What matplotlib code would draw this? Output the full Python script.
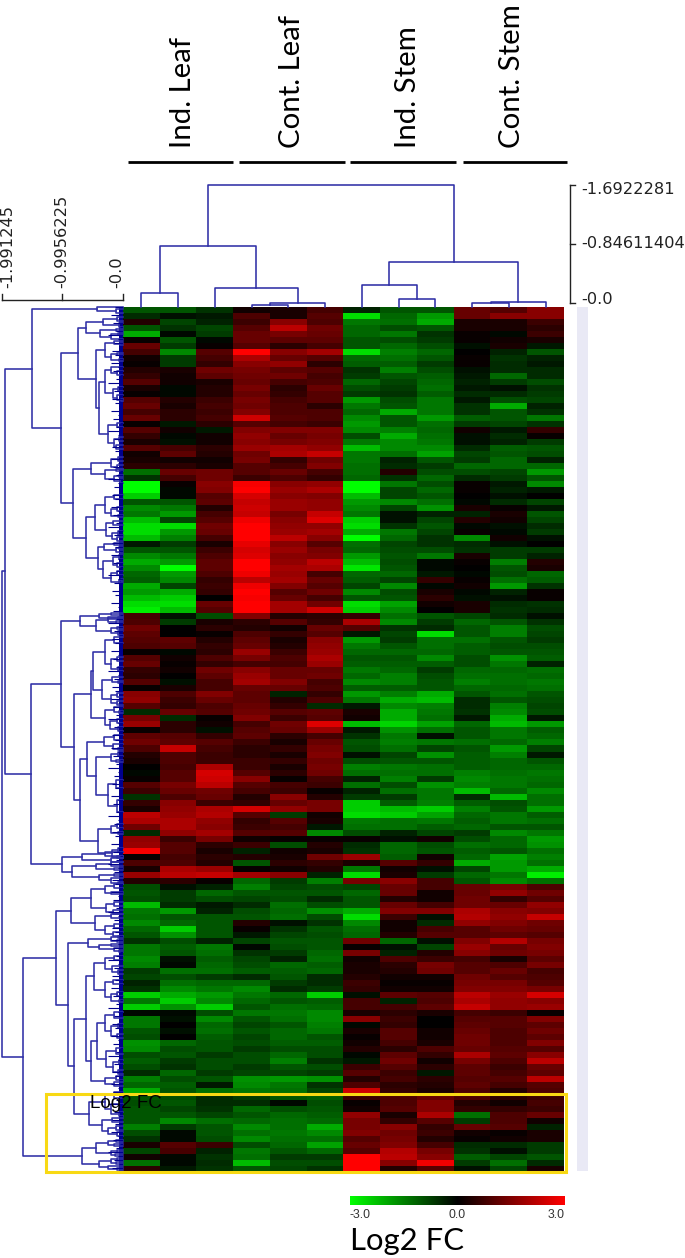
import numpy as np
import matplotlib
matplotlib.use('Agg')
import matplotlib.pyplot as plt
from matplotlib.colors import LinearSegmentedColormap
from matplotlib.patches import Rectangle

W, H = 685, 1258

# group labels
groups = ['Ind. Leaf', 'Cont. Leaf', 'Ind. Stem', 'Cont. Stem']

# log2 fc, one row per band, columns = 3 x 4 groups
heat_top = [
    [-1.0,-1.0,-0.6,0.2,0.3,0.8,-0.4,-1.0,-1.0,1.2,1.0,1.6],
    [-0.5,-0.2,-0.3,0.9,0.3,1.0,-2.6,-1.2,-1.8,1.2,1.6,1.6],
    [0.4,-0.8,-0.4,0.7,1.6,0.9,-1.4,-1.3,-2.0,0.3,0.3,0.7],
    [-1.0,-0.6,-0.8,1.0,2.2,1.3,-1.2,-0.9,-1.0,0.3,0.3,0.5],
    [-2.0,-0.1,-0.7,1.2,1.4,1.2,-1.2,-1.4,-0.6,0.1,-0.1,0.7],
    [0.1,-1.0,-0.1,1.2,1.1,1.1,-1.0,-0.9,-0.7,0.1,0.2,0.3],
    [1.2,-0.7,0.1,1.0,0.5,0.8,-1.0,-1.2,-0.9,-0.2,0.3,-0.3],
    [0.8,-1.6,1.0,3.0,1.6,1.9,-2.6,-1.5,-1.2,0.0,-0.4,-1.0],
    [0.2,-0.7,0.8,2.0,1.2,1.0,-1.2,-1.3,-1.0,0.1,-0.6,-0.4],
    [0.1,-0.7,0.6,1.6,1.7,0.5,-1.1,-1.1,-0.7,0.1,-0.5,-0.3],
    [0.4,0.3,1.3,1.4,1.1,1.0,-0.6,-1.5,-0.9,-0.2,-0.5,-0.5],
    [0.6,0.2,1.1,1.3,1.3,0.8,-0.7,-1.0,-1.1,-0.3,-1.2,-0.5],
    [1.0,0.2,0.3,1.2,0.8,0.9,-1.2,-0.8,-1.2,-0.4,-0.7,-0.9],
    [0.3,-0.1,0.4,1.4,0.5,1.2,-0.9,-0.7,-1.3,-0.3,-0.2,-0.6],
    [0.1,-0.1,0.4,1.2,0.6,1.0,-0.7,-0.6,-1.1,-0.5,-0.5,-0.7],
    [1.0,0.4,0.7,1.4,0.8,1.0,-1.8,-0.9,-1.4,-0.3,-0.9,-0.8],
    [1.2,0.3,0.8,1.3,0.9,0.5,-1.4,-1.0,-1.4,-0.6,-2.0,-0.4],
    [0.8,0.5,0.7,1.5,0.9,0.9,-1.2,-2.0,-1.4,-0.6,-1.0,-0.6],
    [1.2,0.5,0.8,2.4,1.0,0.9,-1.6,-1.0,-1.8,-1.1,-1.0,-1.4],
    [0.1,-0.3,0.5,1.0,0.8,0.7,-1.8,-1.0,-1.3,-0.7,-0.8,-0.6],
    [1.0,0.2,-0.3,1.5,1.5,1.5,-1.6,-1.5,-1.2,0.2,-0.3,0.6],
    [0.6,-0.1,0.2,1.7,1.2,1.4,-0.9,-2.0,-1.3,-0.2,-0.5,0.1],
    [0.3,-0.2,0.2,1.6,1.4,1.5,-1.4,-1.6,-1.4,-0.2,-0.4,-0.7],
    [1.0,0.8,0.5,1.8,1.9,1.7,-2.2,-1.6,-1.6,-0.5,-1.1,-1.0],
    [0.2,1.1,0.4,1.3,2.0,2.3,-1.4,-1.3,-1.9,-0.8,-1.0,-0.9],
    [0.3,0.2,0.2,1.4,0.6,1.3,-1.4,-0.4,-1.0,-0.7,-1.2,-0.4],
    [0.5,0.5,0.3,1.0,0.8,1.5,-1.3,-0.5,-0.7,-1.2,-1.2,-1.2],
    [-1.3,1.2,1.3,1.0,1.2,0.8,-1.3,0.4,-0.9,-0.9,-0.8,-1.8],
    [-0.6,0.8,1.3,0.7,0.9,0.6,-1.2,-0.6,-1.2,-0.5,-0.7,-1.0],
    [-3.0,0.1,1.6,2.9,1.6,1.7,-3.0,-1.4,-0.9,0.1,-0.3,-1.6],
    [-3.0,-0.1,1.5,3.0,1.8,2.0,-3.0,-0.8,-1.2,0.1,-0.4,-0.3],
    [-2.4,-0.1,1.0,2.5,1.6,1.5,-2.2,-0.8,-1.0,0.0,-0.2,0.0],
    [-1.0,-1.0,1.1,2.3,1.8,1.7,-1.8,-1.6,-1.3,-0.1,-0.5,-0.8],
    [-1.6,-1.4,0.4,2.4,1.8,1.7,-1.6,-0.8,-1.7,0.3,0.1,-0.3],
    [-1.4,-1.8,0.8,2.3,1.4,2.3,-1.4,-0.2,-0.4,-0.4,0.3,-1.0],
    [-2.2,-0.8,1.0,2.8,1.6,2.6,-2.4,-0.2,-0.8,0.4,0.2,-0.8],
    [-2.6,-2.6,1.3,3.0,1.7,1.7,-2.6,-0.6,-1.0,-0.1,-0.2,-0.5],
]
heat_upper_mid = [
    [-2.6,-1.8,1.2,3.0,1.8,1.9,-2.0,-1.4,-0.8,0.1,-0.1,-0.7],
    [-2.2,-1.5,0.8,3.0,2.2,1.6,-3.0,-1.2,-0.6,-1.6,0.2,-0.2],
    [-0.3,-0.7,0.3,2.7,1.6,1.0,-1.3,-0.8,-0.6,-0.5,-0.2,0.0],
    [-1.0,-1.0,0.7,2.5,1.8,1.4,-1.2,-0.9,-0.9,-0.6,-0.7,-0.7],
    [-1.6,-1.4,0.9,2.6,1.6,1.5,-1.8,-1.0,-1.4,0.3,-0.7,-0.4],
    [-2.0,-1.8,1.1,3.0,1.7,2.2,-2.2,-0.9,-0.1,0.1,-1.5,0.4],
    [-1.6,-3.0,1.1,3.0,1.9,2.0,-2.7,-1.0,-0.1,0.0,-1.0,0.3],
    [-1.2,-1.8,0.9,2.8,1.8,0.8,-1.2,-1.2,-0.3,-0.1,-0.9,-1.2],
    [-1.1,-1.6,0.6,2.2,1.9,1.2,-1.1,-0.8,0.6,0.1,-1.3,-1.1],
    [-2.0,-0.8,0.7,2.8,1.5,1.0,-0.8,-1.6,-0.1,0.2,-1.8,-0.6],
    [-1.8,-2.0,0.6,3.0,1.0,1.3,-1.6,-0.9,0.3,-0.1,-0.4,0.1],
    [-2.2,-2.4,0.0,2.9,1.2,0.8,-1.0,-1.0,0.5,-0.2,-0.2,0.1],
    [-2.6,-2.6,1.2,3.0,1.9,1.3,-2.6,-1.9,0.2,0.3,-0.5,-0.6],
    [-2.8,-2.2,1.0,3.0,1.9,2.4,-2.4,-1.6,0.0,0.3,-0.6,-0.5],
    [0.8,-0.2,-0.9,1.5,0.4,0.5,0.6,-1.3,-1.0,-0.8,-0.5,-0.2],
    [0.9,-0.7,0.3,0.5,1.0,0.6,2.0,-1.6,-0.7,-1.2,-1.0,-0.6],
    [1.3,0.0,0.5,0.4,0.2,1.2,1.0,-0.6,-0.5,-1.0,-1.5,-0.9],
    [1.1,0.0,0.1,0.9,0.6,1.0,-0.3,-0.8,-2.6,-1.0,-1.5,-0.8],
    [1.0,1.1,0.4,1.1,0.3,1.6,-1.8,-0.7,-1.3,-1.3,-1.0,-0.7],
    [0.9,1.0,0.6,1.2,0.4,1.7,-1.4,-1.0,-1.3,-1.1,-0.9,-0.9],
    [0.1,-0.1,0.5,1.8,0.7,1.8,-1.2,-1.2,-1.2,-1.1,-1.0,-1.0],
    [1.0,0.2,0.9,1.4,0.9,2.0,-1.0,-1.0,-1.6,-0.9,-1.7,-1.1],
    [1.2,0.1,0.6,0.8,0.8,1.8,-1.1,-1.1,-1.1,-0.9,-1.4,-0.4],
    [0.6,0.2,1.3,1.6,1.2,1.2,-1.4,-1.2,-0.7,-1.2,-1.2,-1.3],
    [0.5,0.0,1.1,1.8,1.2,1.3,-1.2,-1.5,-0.9,-1.3,-1.3,-1.2],
    [1.0,-0.2,0.8,1.9,1.5,0.8,-1.6,-1.5,-1.0,-1.5,-1.3,-1.4],
    [0.1,0.3,0.8,1.2,1.2,0.9,-1.1,-1.1,-1.0,-1.2,-1.2,-1.3],
    [1.6,0.9,1.5,1.1,-0.4,0.6,-1.8,-1.5,-2.0,-1.0,-1.3,-1.0],
    [1.7,0.7,1.2,1.1,0.4,0.9,-1.4,-2.0,-2.2,-0.5,-1.0,-0.9],
    [1.0,0.6,0.9,1.2,0.6,-0.5,-0.3,-1.6,-1.5,-0.5,-1.5,-0.8],
    [-0.5,1.2,1.0,1.3,1.0,1.1,0.3,-2.0,-1.4,-0.6,-1.6,-0.9],
    [1.4,-0.5,0.1,1.5,0.7,1.0,0.2,-2.0,-1.3,-0.3,-2.0,-0.3],
    [1.8,0.5,0.2,0.8,1.3,2.6,-2.2,-2.5,-1.9,-1.2,-2.2,-1.8],
    [0.1,0.5,-0.2,1.0,1.2,1.8,-0.3,-1.7,-1.3,-1.0,-1.4,-1.1],
    [1.1,1.0,0.6,1.1,0.5,0.8,-0.6,-1.4,-0.2,-1.0,-1.4,-1.2],
    [1.3,1.1,1.0,0.7,0.3,1.2,-1.0,-1.5,-1.4,-1.3,-1.2,-1.5],
]
heat_lower_mid = [
    [0.9,2.3,0.8,0.5,0.6,1.4,-0.9,-1.3,-0.8,-1.0,-1.8,-0.8],
    [0.4,0.9,0.7,0.5,0.3,1.5,-0.2,-0.8,-1.7,-1.1,-1.5,-0.3],
    [0.3,0.9,0.7,0.7,0.6,1.3,-0.9,-1.0,-1.0,-1.1,-1.2,-1.0],
    [0.0,0.8,2.0,0.7,0.3,1.4,-1.5,-1.4,-1.3,-1.1,-1.2,-1.2],
    [-0.1,1.0,2.5,1.0,0.5,1.3,-1.3,-1.3,-1.3,-1.5,-1.3,-1.4],
    [0.1,1.0,2.4,1.6,0.1,0.8,-0.4,-1.5,-0.7,-1.6,-1.4,-1.3],
    [1.0,1.4,2.2,1.0,0.8,0.7,-1.3,-0.9,-1.7,-1.5,-1.4,-1.2],
    [0.7,1.2,1.3,0.8,0.7,0.1,-0.4,-1.3,-1.4,-2.2,-1.2,-1.6],
    [-0.6,0.9,1.2,0.4,1.6,0.4,-0.7,-0.7,-1.4,-0.5,-2.2,-1.3],
    [0.6,1.6,0.7,0.6,1.2,1.4,-2.4,-1.1,-1.5,-1.1,-0.9,-1.3],
    [0.3,1.7,2.0,2.5,1.7,1.4,-2.4,-2.2,-2.4,-1.5,-1.0,-1.8],
    [2.2,1.8,2.1,1.0,-0.7,0.2,-2.6,-2.4,-1.9,-1.2,-1.4,-1.1],
    [2.0,2.0,1.7,0.6,1.0,0.3,-1.4,-1.3,-1.4,-1.1,-1.4,-1.3],
    [1.3,2.0,1.6,0.7,0.8,-0.3,-1.3,-1.3,-1.1,-1.2,-1.0,-1.0],
    [-0.5,1.7,1.9,1.0,1.0,-1.6,-0.9,-0.4,-0.8,-0.7,-1.6,-1.4],
    [1.7,0.7,1.4,0.2,0.1,0.1,0.1,-0.2,0.2,-0.9,-1.2,-1.8],
    [1.8,1.0,0.5,0.7,-0.9,0.4,-0.5,-1.2,-0.9,-1.3,-1.2,-1.7],
    [2.9,1.0,0.3,-0.4,0.2,0.3,-0.6,-1.2,-1.0,-1.1,-1.0,-1.3],
    [0.1,0.8,0.5,0.4,0.3,1.3,1.8,-1.1,0.2,-1.2,-1.9,-1.5],
    [0.9,0.9,0.4,-1.0,0.5,0.6,0.3,1.0,0.6,-2.0,-1.8,-1.3],
    [0.3,2.0,1.8,0.1,0.2,0.4,-1.4,0.2,-0.2,-0.8,-1.8,-2.0],
    [1.8,2.2,2.3,1.9,1.6,-0.4,-2.6,0.3,-0.7,-1.2,-1.4,-2.8],
    [0.4,0.5,0.1,-1.2,-0.7,-1.5,1.4,1.6,0.8,-1.0,-1.6,-1.3],
    [-0.9,-0.2,-0.4,-1.5,-0.8,-0.9,-0.8,1.2,0.8,1.2,1.4,0.9],
    [-1.0,-0.7,-1.2,-1.0,-1.0,-1.0,-1.2,1.2,0.2,1.2,1.7,1.3],
    [-0.9,-0.7,-0.9,-0.8,-0.9,-0.5,-1.0,0.4,0.2,1.3,0.6,1.0],
    [-2.2,-0.5,-0.3,-0.5,-1.3,-0.9,-1.0,1.2,0.8,1.3,1.2,1.7],
    [-1.4,-1.8,-0.4,-0.9,-1.2,-1.7,-2.0,1.5,1.5,2.0,1.6,1.5],
    [-1.3,-1.0,-1.0,-1.0,-1.3,-0.9,-2.6,0.7,-0.2,2.1,1.7,2.3],
    [-1.6,-1.2,-1.0,0.4,-0.2,-0.6,-1.6,0.2,-0.5,1.7,1.5,1.3],
    [-1.2,-2.4,-1.0,0.1,-0.6,-1.0,-1.3,0.2,0.8,1.0,1.3,1.2],
    [-1.0,-1.7,-1.0,-0.3,-0.8,-0.9,-1.2,0.4,1.0,1.0,1.1,1.0],
    [-0.6,-0.9,-0.4,-0.8,-1.0,-1.0,1.3,-1.2,-0.2,1.5,2.1,1.4],
    [-1.4,-1.1,-1.4,-0.1,-0.9,-1.0,0.1,-0.2,-0.8,1.8,1.2,1.5],
    [-1.4,-1.0,-1.3,-0.6,-0.7,-1.2,1.4,-0.4,0.4,1.6,1.3,1.4],
    [-1.6,-0.2,-1.1,-0.8,-0.4,-1.3,0.2,0.9,0.7,0.8,0.3,1.1],
]
heat_bottom = [
    [-1.5,-0.1,-1.2,-0.9,-1.2,-1.1,0.3,0.5,1.4,1.0,0.9,1.4],
    [-0.7,-1.3,-1.3,-1.1,-1.1,-1.2,0.3,0.4,1.3,1.0,1.2,0.8],
    [-0.8,-0.9,-0.7,-0.5,-1.0,-0.5,0.4,0.2,0.2,1.3,1.0,0.9],
    [-0.4,-1.3,-1.2,-1.2,-0.7,-0.5,0.7,0.1,0.1,1.4,1.4,1.0],
    [-0.6,-1.6,-1.4,-1.6,-0.5,-0.7,0.6,0.2,0.2,1.5,1.5,1.4],
    [-2.4,-2.0,-1.8,-1.4,-1.2,-2.4,-0.2,1.1,1.0,2.2,1.8,2.5],
    [-1.4,-2.4,-1.6,-1.2,-1.0,-1.1,0.8,-0.4,0.9,2.0,1.7,1.6],
    [-2.4,-1.7,-2.4,-1.0,-1.3,-1.2,0.8,0.8,1.1,2.3,1.7,1.8],
    [-0.1,-0.1,-0.9,-1.4,-1.4,-1.6,0.3,0.5,0.3,0.8,0.7,0.1],
    [-1.4,-0.2,-1.6,-1.0,-1.3,-1.6,1.6,0.7,0.0,1.0,1.0,1.5],
    [-1.4,0.0,-1.2,-0.8,-1.0,-1.5,-0.1,0.6,0.0,1.1,1.0,1.1],
    [-1.0,-0.2,-1.3,-1.0,-1.2,-1.4,0.3,1.0,0.2,1.2,0.9,1.3],
    [-0.9,0.0,-1.1,-0.8,-1.2,-1.0,0.1,1.0,0.2,1.3,0.9,1.1],
    [-1.7,-1.2,-1.0,-0.9,-1.1,-1.1,0.2,0.8,0.3,1.3,0.9,1.5],
    [-1.6,-0.9,-1.0,-0.7,-0.9,-0.9,0.4,0.5,0.9,1.2,1.0,1.0],
    [-0.9,-1.0,-0.7,-0.9,-1.2,-0.9,-0.1,1.1,0.6,2.0,1.1,1.6],
    [-1.1,-0.7,-0.9,-0.9,-1.5,-0.6,-0.3,1.3,0.2,1.4,0.9,2.2],
    [-0.9,-0.6,-0.9,-0.7,-1.0,-0.9,0.7,1.0,0.5,1.1,0.7,1.2],
    [-0.5,-1.2,-0.7,-0.8,-0.8,-0.7,1.0,0.7,-0.3,1.1,0.8,1.1],
    [-1.5,-0.9,-1.0,-1.7,-1.8,-1.7,0.4,0.8,0.5,1.0,1.0,2.2],
    [-1.2,-1.1,-0.3,-1.6,-1.4,-0.6,0.9,0.5,0.4,1.1,0.8,1.0],
    [-2.0,-1.0,-1.3,-1.4,-1.3,-0.8,2.4,0.6,0.3,0.9,0.4,0.9],
    [-1.0,-0.9,-0.5,-0.7,-1.0,-1.1,0.7,0.9,1.2,0.9,0.5,0.7],
    [-0.9,-1.0,-0.5,-0.5,-0.1,-0.9,0.1,0.9,1.5,0.4,0.2,0.8],
    [-1.0,-0.8,-0.6,-1.2,-0.9,-1.0,0.2,1.0,1.5,0.6,0.6,0.7],
    [-1.0,-1.0,-0.8,-1.0,-1.2,-1.1,1.7,0.3,2.0,-1.3,0.9,1.2],
    [-1.0,-1.6,-1.3,-1.2,-1.3,-1.2,1.4,0.6,1.0,-0.7,0.9,0.2],
    [-1.5,-0.7,-1.0,-1.6,-1.3,-2.0,1.4,1.6,0.6,1.2,1.0,-0.4],
    [-0.9,-0.1,-1.0,-1.3,-1.4,-1.6,1.5,1.3,0.7,0.2,0.1,0.3],
    [-0.6,-0.1,-0.9,-1.6,-1.3,-1.3,1.0,1.4,0.4,0.1,0.2,0.3],
    [0.3,1.0,0.7,-0.9,-1.2,-1.9,1.2,1.5,0.8,-0.5,-0.5,-0.7],
    [-0.8,0.8,-0.4,-1.4,-1.0,-1.2,1.0,2.1,1.4,-0.6,-0.2,-0.7],
    [0.2,-0.1,-0.6,-1.3,-0.7,-0.7,3.0,2.2,1.6,-1.1,-0.8,-1.0],
    [-1.3,-0.1,-0.5,-2.2,-0.9,-0.9,3.0,1.6,2.8,-0.7,-1.3,-0.5],
    [0.5,-0.3,-0.6,-1.0,-0.8,-0.6,3.0,0.4,1.0,-0.2,-0.8,0.3],
]

# column tree: (height, left, right), leaves are column centres
col_tree = (1.6922, (0.85, (0.196, 0.5, 1.5), (0.266, 2.5, (0.056, (0.028, 3.5, 4.5), 5.5))),
            (0.63, (0.31, 6.5, (0.112, 7.5, 8.5)), (0.07, (0.056, 9.5, 10.5), 11.5)))

# row tree, same form, leaves are gene positions (0-432)
first_part = (0.74,
    (0.61, (0.33, (0.1, 5, 7), (0.06, 8, 10)), (0.38, (0.12, 11, 12), (0.2, (0.08, 13, 14), 16))),
    (0.44, (0.30, (0.15, 17, (0.05, 18, 19)), (0.2, (0.1, 23, 24), (0.06, 26, 27))),
     (0.40, (0.30, (0.2, 30, (0.1, 32, 34)), (0.16, (0.08, 40, 42), (0.1, 44, (0.04, 46, 47)))),
      (0.25, (0.1, 58, 60), (0.15, (0.06, 65, 67), (0.12, 69, 71))))))
second_part = (0.82,
    (0.53, (0.2, (0.08, 75, 77), (0.1, 79, 81)), (0.30, (0.12, 81, 82), (0.15, (0.06, 84, 85), (0.05, 86, 88)))),
    (0.61,
     (0.46, (0.30, (0.15, 94, 96), (0.2, (0.1, 100, 102), (0.08, 104, 105))),
      (0.28, (0.16, 107, 109), (0.18, (0.09, 112, 114), (0.1, 115, 117)))),
     (0.41, (0.32, (0.14, 118, 119), (0.12, (0.06, 120, 121), (0.05, 122, 123))),
      (0.33, (0.17, (0.07, 124, 126), (0.1, 128, 130)), (0.2, (0.1, 132, 134), (0.06, (0.03, 136, 137), 138))))))
tree_a = (1.50, (0.43, 0, (0.12, 1, 3)), (1.02, first_part, second_part))

third_part = (1.02,
    (0.71, (0.4, (0.2, 153, 154), (0.25, 155, 156)),
     (0.44, (0.25, (0.09, 155, 156), (0.12, 157, 158)), (0.2, (0.1, 160, 161), (0.08, 162, 164)))),
    (0.81,
     (0.53,
      (0.49, (0.30, (0.15, 165, 168), (0.2, (0.1, 175, 177), (0.08, 180, 182))),
       (0.35, (0.18, 185, (0.08, 187, 188)), (0.2, (0.1, 193, 195), (0.1, 197, 199)))),
      (0.30, (0.15, 200, (0.07, 202, 203)), (0.22, (0.1, 206, 208), (0.09, 210, 212)))),
     (0.71,
      (0.59, (0.32, (0.14, 214, 216), (0.17, 218, (0.08, 220, 221))),
       (0.44, (0.2, (0.09, 222, 224), (0.12, 226, 227)), (0.25, (0.12, 236, 240), (0.1, 246, 252)))),
      (0.41, (0.2, (0.1, 258, 260), (0.08, 262, 263)), (0.18, (0.08, 270, 272), (0.1, 274, 275))))))
fourth_part = (1.0, (0.67, (0.3, 272, 274), (0.2, 275, 277)),
    (0.84, (0.45, (0.2, 277, 279), (0.15, 280, 281)), (0.4, (0.15, 283, 284), (0.2, 285, (0.08, 287, 288)))))
tree_b = (1.95, tree_a, (1.51, third_part, fourth_part))

fifth_part = (1.11,
    (0.85,
     (0.53, (0.3, (0.15, 288, 290), (0.2, 292, 293)), (0.28, (0.14, 297, 299), (0.16, 301, 303))),
     (0.46, (0.2, 303, 305), (0.3, (0.15, 308, 310), (0.17, 312, 314)))),
    (0.91,
     (0.58, (0.2, (0.08, 314, 315), (0.1, 316, 317)), (0.4, (0.2, 318, 319), (0.15, 320, (0.06, 321, 322)))),
     (0.81,
      (0.61,
       (0.48, (0.30, (0.14, 324, 326), (0.18, 329, (0.08, 331, 333))),
        (0.30, (0.16, 336, 338), (0.2, (0.1, 342, 344), (0.06, 346, 347)))),
       (0.53,
        (0.42, (0.3, (0.14, 352, 355), (0.2, (0.08, 358, 360), (0.1, 363, 365))),
         (0.28, (0.12, 370, 373), (0.17, (0.07, 376, 378), (0.09, 381, 383)))),
        (0.3, (0.12, 384, 386), (0.15, 387, 389)))),
      (0.56, (0.3, (0.15, 392, 395), (0.2, 398, (0.07, 402, 404))),
       (0.35, (0.18, 405, 407), (0.25, (0.12, 409, 411), (0.1, 412, 414)))))))
sixth_part = (0.67,
    (0.44, (0.25, (0.12, 416, 417), (0.14, 418, 419)), (0.2, (0.1, 421, 422), (0.13, 423, 424))),
    (0.4, (0.2, (0.1, 425, 426), (0.12, 427, 428)), (0.25, 429, (0.1, 430, 431))))
row_tree = (1.991245, tree_b, (1.65, fifth_part, sixth_part))

n_genes = 432
# short twig lengths next to the heatmap, read roughly from the dense part
twig_lengths = [0.13, 0.06, 0.2, 0.09, 0.16, 0.05, 0.11, 0.24, 0.08, 0.15, 0.07, 0.18]
row_ticks = [1.991245, 0.9956225, 0.0]
row_tick_labels = ['-1.991245', '-0.9956225', '-0.0']
col_ticks = [1.6922281, 0.84611404, 0.0]
col_tick_labels = ['-1.6922281', '-0.84611404', '-0.0']
bar_labels = ['-3.0', '0.0', '3.0']
bar_values = [-3.0, 0.0, 3.0]

blue = '#2f2fa6'
navy = '#00008e'
cmap = LinearSegmentedColormap.from_list('gbr', ['#00ff00', '#000000', '#ff0000'])


def px_axes(x0, y0, x1, y1):
    # axes placed by pixel box, y measured from the top
    return fig.add_axes([x0 / W, 1 - y1 / H, (x1 - x0) / W, (y1 - y0) / H])


def draw_tree(ax, node, rows):
    if not isinstance(node, tuple):
        return node, 0
    h, a, b = node
    pa, ha = draw_tree(ax, a, rows)
    pb, hb = draw_tree(ax, b, rows)
    if rows:
        ax.plot([ha, h, h, hb], [pa, pa, pb, pb], color=blue, lw=1.15, clip_on=False)
    else:
        ax.plot([pa, pa, pb, pb], [ha, h, h, hb], color=blue, lw=1.15, clip_on=False)
    return (pa + pb) / 2, h


fig = plt.figure(figsize=(W / 100, H / 100), dpi=100)

# heatmap
data = np.array(heat_top + heat_upper_mid + heat_lower_mid + heat_bottom)
ax = px_axes(123, 307, 564, 1172)
ax.imshow(data, cmap=cmap, vmin=-3, vmax=3, aspect='auto', interpolation='nearest')
ax.axis('off')

# row dendrogram
ax_r = px_axes(2, 307, 123, 1172)
ax_r.set_xlim(1.991245, 0)
ax_r.set_ylim(n_genes, 0)
ax_r.axis('off')
draw_tree(ax_r, row_tree, True)
leaf_pos = np.arange(0, n_genes, 2)
ax_r.hlines(leaf_pos, 0, np.resize(twig_lengths, len(leaf_pos)), color=navy, lw=0.8)
ax_r.axvspan(0.06, 0, color=navy, lw=0)

# column dendrogram
ax_c = px_axes(123, 185, 564, 307)
ax_c.set_xlim(0, data.shape[1])
ax_c.set_ylim(0, 1.6922281)
ax_c.axis('off')
draw_tree(ax_c, col_tree, False)

# overlay in pixels for the scales and the labels
ov = fig.add_axes([0, 0, 1, 1], zorder=5)
ov.set_xlim(0, W)
ov.set_ylim(H, 0)
ov.axis('off')
ov.patch.set_alpha(0)

# row scale
x_of = lambda v: 123 - v / 1.991245 * 121
ov.plot([2, 123], [300, 300], color='#222222', lw=1)
for v, lab, x_l in zip(row_ticks, row_tick_labels, [8, 62, 117]):
    ov.plot([x_of(v), x_of(v)], [300, 294], color='#222222', lw=1)
    ov.text(x_l, 288, lab, rotation=90, ha='center', va='bottom', fontsize=11.7, color='#222222')

# column scale
y_of = lambda v: 303 - v / 1.6922281 * 118
ov.plot([570, 570], [185, 303], color='#222222', lw=1)
for v, lab, y_l in zip(col_ticks, col_tick_labels, [190, 243, 299]):
    ov.plot([570, 575], [y_of(v), y_of(v)], color='#222222', lw=1)
    ov.text(581, y_l, lab, ha='left', va='center', fontsize=11.7, color='#222222')

# gene name strip, unreadable in the source
ov.add_patch(Rectangle((577, 307), 11, 864, fc='#e9e9f5', ec='none'))

# group labels
for lab, x_t, x0, x1 in zip(groups, [183, 292, 408, 512], [128, 239, 350, 463], [233, 345, 456, 567]):
    ov.text(x_t, 148, lab, rotation=90, ha='center', va='bottom', fontsize=21.2, family='Lato', color='black')
    ov.plot([x0, x1], [162, 162], color='black', lw=2, solid_capstyle='butt')

# highlight box
ov.add_patch(Rectangle((46, 1094), 520, 78, fc='none', ec='#f8d914', lw=2.2))
ov.text(90, 1104, 'Log2 FC', fontsize=13.5, family='Liberation Sans', va='center', color='black')

# colour bar
ax_b = px_axes(350, 1196, 565, 1205)
ax_b.imshow(np.linspace(-3, 3, 256)[None, :], cmap=cmap, aspect='auto', vmin=-3, vmax=3)
ax_b.axis('off')
for v, lab, ha in zip(bar_values, bar_labels, ['left', 'center', 'right']):
    ov.text(457.5 + v / 3 * 107.5, 1215, lab, ha=ha, va='center', fontsize=8.8,
            family='Liberation Sans', color='#333333')
ov.text(350, 1250, 'Log2 FC', fontsize=22.3, family='Lato', va='baseline', color='black')

fig.savefig('out.png', dpi=100)
